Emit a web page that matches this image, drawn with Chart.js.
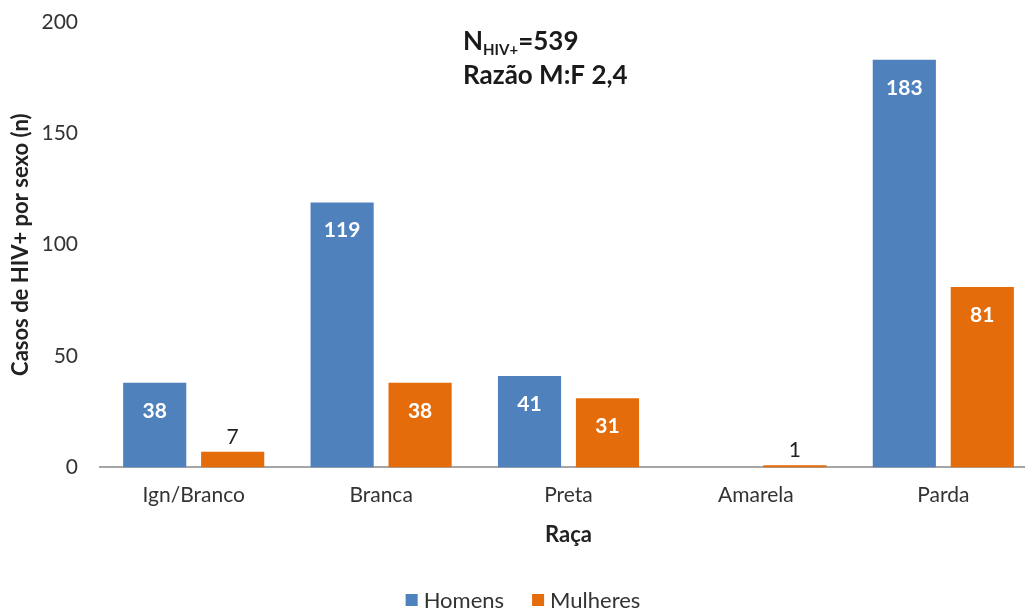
<!DOCTYPE html>
<html><head><meta charset="utf-8">
<script src="https://cdn.jsdelivr.net/npm/chart.js@4"></script>
<style>html,body{margin:0;padding:0;background:#fff;overflow:hidden;width:1025px;height:611px;position:relative}#wrap{position:absolute;left:0;top:-10px;width:1037px;height:621px}</style>
</head><body><div id="wrap"><canvas id="c"></canvas></div>
<script>
const categories = ["Ign/Branco", "Branca", "Preta", "Amarela", "Parda"];
const homens = [38, 119, 41, 0, 183];
const mulheres = [7, 38, 31, 1, 81];
const yTicks = [0, 50, 100, 150, 200];
const seriesNames = ["Homens", "Mulheres"];
const FONT = "Lato, 'Open Sans', sans-serif";
const SHIFT = 10; // canvas is offset upward by this many pixels

const labelPlugin = {
  id: 'labels',
  afterDatasetsDraw(chart) {
    const ctx = chart.ctx;
    chart.data.datasets.forEach((ds, i) => {
      const meta = chart.getDatasetMeta(i);
      meta.data.forEach((bar, j) => {
        const v = ds.data[j];
        if (v === 0) return;
        ctx.save();
        ctx.textAlign = 'center';
        ctx.textBaseline = 'middle';
        if (v < 15) {
          ctx.font = '21px ' + FONT;
          ctx.fillStyle = '#222';
          ctx.fillText(String(v), bar.x, bar.y - 15);
        } else {
          ctx.font = 'bold 21px ' + FONT;
          ctx.fillStyle = '#fff';
          ctx.fillText(String(v), bar.x, bar.y + 28);
        }
        ctx.restore();
      });
    });
  }
};

const notePlugin = {
  id: 'note',
  afterDraw(chart) {
    const ctx = chart.ctx;
    ctx.save();
    ctx.fillStyle = '#1a1a1a';
    ctx.textBaseline = 'alphabetic';
    ctx.textAlign = 'left';
    let x = 463;
    ctx.font = 'bold 26px ' + FONT;
    ctx.fillText('N', x, 50 + SHIFT);
    x += ctx.measureText('N').width;
    ctx.font = 'bold 15px ' + FONT;
    ctx.fillText('HIV+', x, 55 + SHIFT);
    x += ctx.measureText('HIV+').width;
    ctx.font = 'bold 26px ' + FONT;
    ctx.fillText('=539', x, 50 + SHIFT);
    ctx.fillText('Razão M:F 2,4', 463, 84 + SHIFT);
    ctx.restore();
  }
};

const legendPlugin = {
  id: 'customLegend',
  afterDraw(chart) {
    const ctx = chart.ctx;
    ctx.save();
    ctx.font = '22px ' + FONT;
    ctx.textBaseline = 'middle';
    ctx.textAlign = 'left';
    const box = 12, gap = 6, sep = 28, cy = 600 + SHIFT;
    const ds = chart.data.datasets;
    const widths = ds.map(d => ctx.measureText(d.label).width);
    const total = ds.length * (box + gap) + widths.reduce((a, b) => a + b, 0) + sep * (ds.length - 1);
    let x = 523 - total / 2;
    ds.forEach((d, i) => {
      ctx.fillStyle = d.backgroundColor;
      ctx.fillRect(x, cy - box / 2, box, box);
      x += box + gap;
      ctx.fillStyle = '#333';
      ctx.fillText(d.label, x, cy + 1);
      x += widths[i] + sep;
    });
    ctx.restore();
  }
};

new Chart(document.getElementById('c'), {
  type: 'bar',
  data: {
    labels: categories,
    datasets: [
      { label: seriesNames[0], data: homens, backgroundColor: '#4F81BD', categoryPercentage: 0.832, barPercentage: 0.81 },
      { label: seriesNames[1], data: mulheres, backgroundColor: '#E46C0A', categoryPercentage: 0.832, barPercentage: 0.81 }
    ]
  },
  options: {
    responsive: true,
    maintainAspectRatio: false,
    animation: false,
    layout: { padding: { top: 32, left: 0, right: 0, bottom: 58 } },
    plugins: {
      legend: { display: false },
      tooltip: { enabled: false }
    },
    scales: {
      x: {
        grid: { display: false },
        border: { display: true, color: '#A6A6A6', width: 2 },
        ticks: { font: { family: FONT, size: 21 }, color: '#333', padding: 7 },
        title: { display: true, text: 'Raça', font: { family: FONT, size: 22, weight: 'bold' }, color: '#222', padding: { top: 7, bottom: 5 } }
      },
      y: {
        min: 0, max: 200,
        afterBuildTicks(scale) { scale.ticks = yTicks.map(v => ({ value: v })); },
        afterFit(scale) { scale.width = 100; },
        grid: { display: false },
        border: { display: false },
        ticks: { font: { family: FONT, size: 21 }, color: '#333', padding: 14 },
        title: { display: true, text: 'Casos de HIV+ por sexo (n)', font: { family: FONT, size: 22, weight: 'bold' }, color: '#222', padding: { top: 8, bottom: 2 } }
      }
    }
  },
  plugins: [labelPlugin, notePlugin, legendPlugin]
});
</script></body></html>
